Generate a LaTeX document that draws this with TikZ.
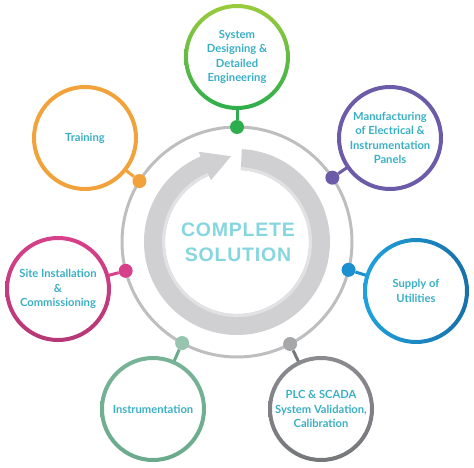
\documentclass[tikz,border=0pt]{standalone}
\usepackage{fontspec}
\usetikzlibrary{calc}
\setmainfont{Lato}
\newfontfamily\bigfont[LetterSpace=4]{Liberation Sans}
\definecolor{ringgray}{HTML}{BEBEC0}
\definecolor{bandgray}{HTML}{D0D0D2}
\definecolor{bandlight}{HTML}{E2E2E4}
\definecolor{txtc}{HTML}{3AAFC4}
\definecolor{titlec}{HTML}{86D6DF}
\definecolor{cgreen}{HTML}{2DAE4C}
\definecolor{cgreenl}{HTML}{9ACB3C}
\definecolor{cpurple}{HTML}{6B5BA8}
\definecolor{corange}{HTML}{F2A23A}
\definecolor{cpink}{HTML}{D6418A}
\definecolor{cblue}{HTML}{1B90D0}
\definecolor{cbluel}{HTML}{1FA2DE}
\definecolor{cblued}{HTML}{1870A8}
\definecolor{cteal}{HTML}{6AAB8C}
\definecolor{cgray}{HTML}{76777B}
\begin{document}
\begin{tikzpicture}[x=1pt,y=1pt,
  sat/.style={circle, minimum size=102pt, inner sep=0pt, align=center,
    font=\fontsize{11.2}{14.5}\selectfont\bfseries, text=txtc},
  dotn/.style={circle, minimum size=14pt, inner sep=0pt},
  stem/.style={line width=3pt}]
\useasboundingbox (0,0) rectangle (474,467);
\coordinate (C) at (237,225);
% main ring
\draw[ringgray, line width=3pt] (C) circle (115);
% circular arrow band
\begin{scope}[shift={(C)}]
\fill[bandgray] (87:93) arc[start angle=87, end angle=-247, radius=93]
  -- (113:98) -- (94:86) -- (113:67) -- (113:72)
  arc[start angle=113, end angle=447, radius=72] -- cycle;
\draw[bandlight, line width=3pt] (113:73.5) arc[start angle=113, end angle=447, radius=73.5];
\end{scope}
\node[font=\bigfont\bfseries\fontsize{19.5}{25}\selectfont, text=titlec, align=center] (title) at (238,225) {COMPLETE\\SOLUTION};
% satellites
\node[sat] (s1) at (237,410) {System\\Designing \&\\Detailed\\Engineering};
\node[sat] (s2) at (390,329) {Manufacturing\\of Electrical \&\\Instrumentation\\Panels};
\node[sat] (s3) at (416,176) {Supply of\\Utilities};
\node[sat] (s4) at (321,58) {PLC \& SCADA\\System Validation,\\Calibration};
\node[sat] (s5) at (153,58) {Instrumentation};
\node[sat] (s6) at (58,178) {Site Installation\\\&\\Commissioning};
\node[sat] (s7) at (85,329) {Training};
% dots
\node[dotn, fill=cgreen] (d1) at ($(C)+(90:115)$) {};
\node[dotn, fill=cpurple] (d2) at ($(C)+(34:115)$) {};
\node[dotn, fill=cblue] (d3) at ($(C)+(-14:115)$) {};
\node[dotn, fill=cgray!65] (d4) at ($(C)+(-62.5:115)$) {};
\node[dotn, fill=cteal!70] (d5) at ($(C)+(241.5:115)$) {};
\node[dotn, fill=cpink] (d6) at ($(C)+(194.5:115)$) {};
\node[dotn, fill=corange] (d7) at ($(C)+(148:115)$) {};
% stems
\draw[stem, cgreen] (d1) -- (s1);
\draw[stem, cpurple] (d2) -- (s2);
\draw[stem, cblue] (d3) -- (s3);
\draw[stem, cgray] (d4) -- (s4);
\draw[stem, cteal] (d5) -- (s5);
\draw[stem, cpink] (d6) -- (s6);
\draw[stem, corange] (d7) -- (s7);
% rings
\shade[even odd rule, top color=cgreenl, bottom color=cgreen] (s1.center) circle (53) (s1.center) circle (49);
\fill[even odd rule, cpurple] (s2.center) circle (53) (s2.center) circle (49);
\shade[even odd rule, left color=cbluel, right color=cblued] (s3.center) circle (53) (s3.center) circle (49);
\shade[even odd rule, top color=cgray!85, bottom color=cgray] (s4.center) circle (53) (s4.center) circle (49);
\shade[even odd rule, top color=cteal!90, bottom color=cteal] (s5.center) circle (53) (s5.center) circle (49);
\shade[even odd rule, top color=cpink, bottom color=cpink!85!black] (s6.center) circle (53) (s6.center) circle (49);
\fill[even odd rule, corange] (s7.center) circle (53) (s7.center) circle (49);
\end{tikzpicture}
\end{document}
